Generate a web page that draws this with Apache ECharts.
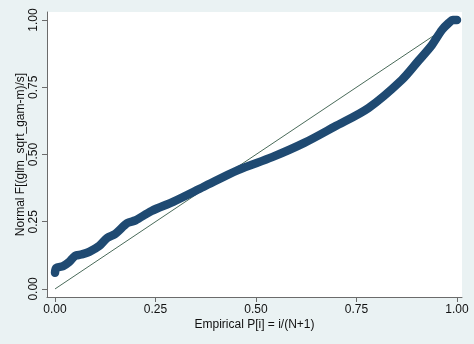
<!DOCTYPE html>
<html><head><meta charset="utf-8">
<script src="https://cdn.jsdelivr.net/npm/echarts@6/dist/echarts.min.js"></script>
<style>html,body{margin:0;padding:0;background:#eaf2f3}#c{width:474px;height:344px}</style>
</head><body><div id="c"></div>
<script>
const empiricalP = [0.0, 0.003, 0.02, 0.035, 0.05, 0.065, 0.085, 0.11, 0.13, 0.15, 0.18, 0.20, 0.24, 0.295, 0.37, 0.455, 0.54, 0.62, 0.695, 0.78, 0.8625, 0.905, 0.9375, 0.9625, 0.98, 0.99, 1.0];
const normalF   = [0.06, 0.078, 0.085, 0.10, 0.123, 0.128, 0.138, 0.16, 0.19, 0.205, 0.245, 0.255, 0.29, 0.325, 0.38, 0.442, 0.49, 0.543, 0.603, 0.673, 0.777, 0.85, 0.907, 0.963, 0.99, 1.0, 1.0];
const refP = [0, 1];
const refF = [0, 1];
const tickValues = [0, 0.25, 0.5, 0.75, 1];
const xTitle = 'Empirical P[i] = i/(N+1)';
const yTitle = 'Normal F[(glm_sqrt_gam-m)/s]';

const chart = echarts.init(document.getElementById('c'));
const font = 'Liberation Sans, Arial, sans-serif';
const axisCommon = {
  type: 'value',
  splitLine: {show: false},
  axisLine: {show: true, onZero: false, lineStyle: {color: '#6b6b6b', width: 1}},
  nameLocation: 'middle',
  nameMoveOverlap: false,
  nameTextStyle: {color: '#111', fontFamily: font, fontSize: 12}
};
const labelCommon = {color: '#111', fontFamily: font, fontSize: 12, margin: 7,
  customValues: tickValues, formatter: v => v.toFixed(2)};
const tickCommon = {show: true, length: 5, lineStyle: {color: '#6b6b6b'}, customValues: tickValues};
chart.setOption({
  backgroundColor: '#eaf2f3',
  animation: false,
  grid: {left: 47, right: 12, top: 12, bottom: 47, show: true, backgroundColor: '#ffffff', borderWidth: 0},
  xAxis: Object.assign({}, axisCommon, {
    min: -0.02, max: 1.0125,
    name: xTitle, nameGap: 22,
    axisLabel: Object.assign({}, labelCommon),
    axisTick: Object.assign({}, tickCommon)
  }),
  yAxis: Object.assign({}, axisCommon, {
    min: -0.03, max: 1.03,
    name: yTitle, nameGap: 20,
    axisLabel: Object.assign({}, labelCommon, {rotate: 90}),
    axisTick: Object.assign({}, tickCommon)
  }),
  series: [
    {
      type: 'line', data: refP.map((p, i) => [p, refF[i]]),
      symbol: 'none', lineStyle: {color: '#4a6b5a', width: 1}, z: 2
    },
    {
      type: 'line', data: empiricalP.map((p, i) => [p, normalF[i]]),
      smooth: 0.3, symbol: 'none',
      lineStyle: {color: '#1f4a72', width: 8.5, cap: 'round', join: 'round'}, z: 3
    }
  ]
});
</script></body></html>
